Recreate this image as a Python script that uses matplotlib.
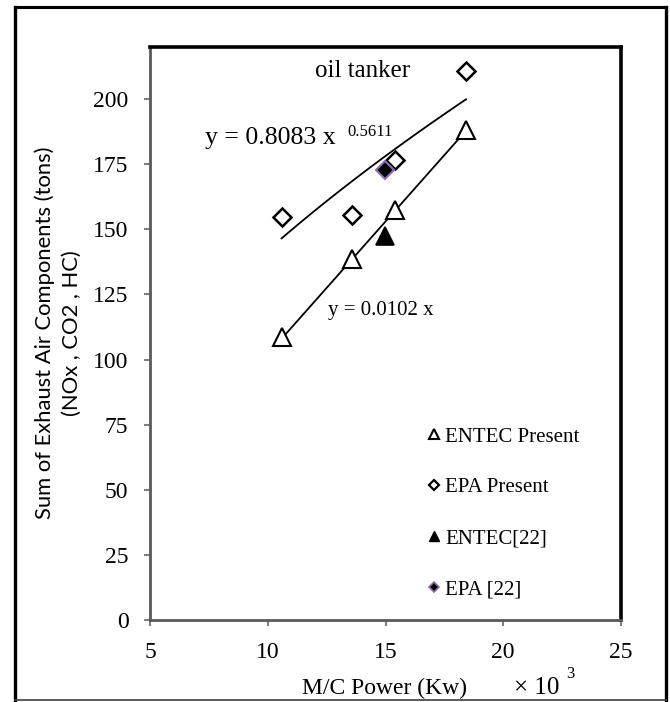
import numpy as np
import matplotlib
matplotlib.use("Agg")
import matplotlib.pyplot as plt
from matplotlib.lines import Line2D

# machine power in thousands of kW, emissions in tons
entec_power = [10.62, 13.59, 15.40, 18.42]
entec_tons = [108.5, 138.6, 157.4, 188.1]
epa_power = [10.59, 13.56, 15.40, 18.42]
epa_tons = [154.8, 155.5, 176.6, 210.9]
entec22_power = [14.98]
entec22_tons = [147.4]
epa22_power = [14.98]
epa22_tons = [172.7]

# trend line coefficients (x in kW)
pow_a, pow_b = 0.8083, 0.5611
lin_k = 0.0102

SERIF = "Liberation Serif"
plt.rcParams["font.family"] = SERIF

fig = plt.figure(figsize=(6.7, 7.02), dpi=100)
ax = fig.add_axes([150 / 670, 1 - 620 / 702, 471 / 670, 573 / 702])

# trend lines across each series' range
xp = np.linspace(min(epa_power), max(epa_power), 50)
ax.plot(xp, pow_a * (xp * 1000) ** pow_b, color="black", lw=1.3, zorder=2)
xl = np.linspace(min(entec_power), max(entec_power), 50)
ax.plot(xl, lin_k * xl * 1000, color="black", lw=1.3, zorder=2)

ax.plot(entec_power, entec_tons, ls="none", marker="^", ms=13, mfc="white",
        mec="black", mew=1.5, zorder=3)
ax.plot(epa_power, epa_tons, ls="none", marker="D", ms=9.5, mfc="white",
        mec="black", mew=1.8, zorder=3)
ax.plot(entec22_power, entec22_tons, ls="none", marker="^", ms=13, mfc="black",
        mec="black", mew=1.2, zorder=4)
ax.plot(epa22_power, epa22_tons, ls="none", marker="D", ms=9.5, mfc="black",
        mec="#8a6fb0", mew=1.5, zorder=4)

ax.set_xlim(5, 25)
ax.set_ylim(0, 220)
ax.set_xticks([5, 10, 15, 20, 25])
ax.set_yticks(range(0, 201, 25))
ax.tick_params(direction="out", length=4.5, width=1.5, color="#808080",
               labelsize=17, pad=11)
for s in ("left", "bottom"):
    ax.spines[s].set_color("#5a5a5a")
    ax.spines[s].set_linewidth(2)
for s in ("top", "right"):
    ax.spines[s].set_color("black")
    ax.spines[s].set_linewidth(2.6)

ax.text(14.04, 210.7, "oil tanker", fontsize=18, ha="center", va="center")
ax.text(7.34, 185.0, "y = 0.8083 x", fontsize=18.5, ha="left", va="center")
ax.text(13.37, 187.3, "0.5611", fontsize=12, ha="left", va="center")
ax.text(12.56, 119.0, "y = 0.0102 x", fontsize=15, ha="left", va="center")

handles = [
    Line2D([], [], ls="none", marker="^", ms=7, mfc="white", mec="black", mew=1.5),
    Line2D([], [], ls="none", marker="D", ms=5.5, mfc="white", mec="black", mew=1.6),
    Line2D([], [], ls="none", marker="^", ms=7, mfc="black", mec="black"),
    Line2D([], [], ls="none", marker="D", ms=5.5, mfc="black", mec="#8a6fb0", mew=1.2),
]
labels = ["ENTEC Present", "EPA Present", "ENTEC[22]", "EPA [22]"]
ax.legend(handles, labels, loc="upper left", bbox_to_anchor=(0.567, 0.355),
          frameon=False, fontsize=15, handlelength=0.6, handletextpad=0.25,
          labelspacing=1.5, borderpad=0)

fig.text(385 / 670, 1 - 688 / 702, "M/C Power (Kw)", fontsize=17,
         ha="center", va="center")
fig.text(514 / 670, 1 - 688 / 702, "\u00d7 10", fontsize=18, ha="left", va="center")
fig.text(566 / 670, 1 - 674 / 702, "3", fontsize=12, ha="left", va="center")

fig.text(45 / 670, 1 - 333 / 702, "Sum of Exhaust Air Components (tons)",
         family="Lato", fontsize=15.8, rotation=90, ha="center", va="center")
fig.text(72 / 670, 1 - 333 / 702, "(NOx , CO2 , HC)", family="Lato",
         fontsize=15.8, rotation=90, ha="center", va="center")

# outer frame
W, H = 670, 702
def frame_line(x0, y0, x1, y1, lw, color):
    fig.add_artist(Line2D([x0 / W, x1 / W], [1 - y0 / H, 1 - y1 / H],
                          transform=fig.transFigure, lw=lw, color=color))

frame_line(15, 7, 666, 7, 2.2, "black")
frame_line(15, 7, 15, 700, 2.4, "black")
frame_line(666, 7, 666, 700, 2.4, "black")
frame_line(15, 700, 666, 700, 1.2, "#404040")

fig.savefig("out.png", dpi=100, facecolor="white")
